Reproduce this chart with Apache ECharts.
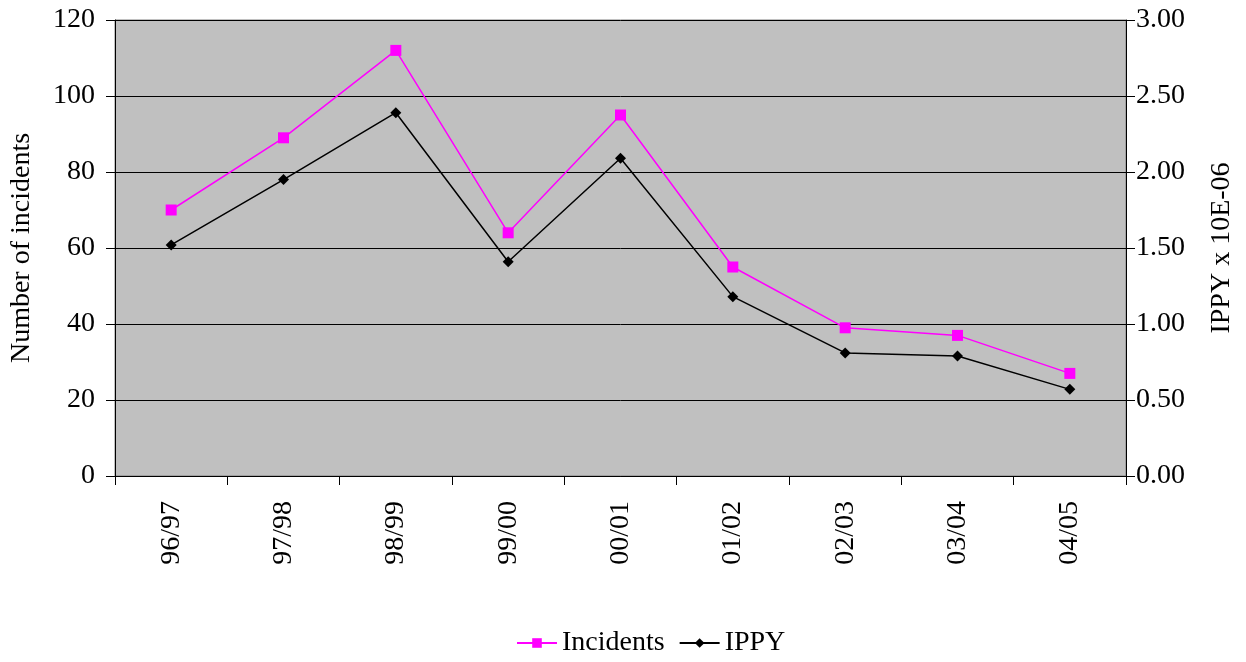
<!DOCTYPE html>
<html>
<head>
<meta charset="utf-8">
<script src="https://cdn.jsdelivr.net/npm/echarts@6/dist/echarts.min.js"></script>
<style>
  html, body { margin: 0; padding: 0; background: #fff; }
  #chart { width: 1246px; height: 662px; }
</style>
</head>
<body>
<div id="chart"></div>
<script>
  // seasons on the x axis
  const seasons = ['96/97', '97/98', '98/99', '99/00', '00/01', '01/02', '02/03', '03/04', '04/05']
  // number of incidents (left axis)
  const incidents = [70, 89, 112, 64, 95, 55, 39, 37, 27]
  // IPPY x 10E-06 (right axis)
  const ippy = [1.52, 1.95, 2.39, 1.41, 2.09, 1.18, 0.81, 0.79, 0.57]

  const font = 'Liberation Serif, Times New Roman, serif'
  const fs = 28

  const chart = echarts.init(document.getElementById('chart'))
  const option = {
    animation: false,
    textStyle: { fontFamily: font, color: '#000' },
    grid: {
      left: 115, right: 120, top: 20, bottom: 186,
      show: true,
      backgroundColor: '#c0c0c0',
      borderColor: '#808080',
      borderWidth: 1
    },
    legend: {
      bottom: 0,
      left: 511,
      itemWidth: 40,
      itemHeight: 12,
      itemGap: 14,
      textStyle: { fontFamily: font, fontSize: fs, color: '#000' },
      data: ['Incidents', 'IPPY']
    },
    xAxis: {
      type: 'category',
      data: seasons,
      boundaryGap: true,
      axisLine: { lineStyle: { color: '#000', width: 1 } },
      axisTick: { show: true, length: 9, lineStyle: { color: '#000' } },
      axisLabel: {
        rotate: 90,
        margin: 25,
        fontFamily: font,
        fontSize: fs,
        color: '#000'
      }
    },
    yAxis: [
      {
        type: 'value',
        min: 0, max: 120, interval: 20,
        name: 'Number of incidents',
        nameLocation: 'middle',
        nameGap: 79,
        nameTextStyle: { fontFamily: font, fontSize: fs, color: '#000' },
        axisLine: { show: true, lineStyle: { color: '#000' } },
        axisTick: { show: true, length: 9, lineStyle: { color: '#000' } },
        axisLabel: { fontFamily: font, fontSize: fs, color: '#000', margin: 20 },
        splitLine: { show: true, lineStyle: { color: '#000', width: 1 } }
      },
      {
        type: 'value',
        min: 0, max: 3, interval: 0.5,
        position: 'right',
        name: 'IPPY x 10E-06',
        nameLocation: 'middle',
        nameGap: 82,
        nameRotate: 90,
        nameTextStyle: { fontFamily: font, fontSize: fs, color: '#000' },
        axisLine: { show: true, lineStyle: { color: '#000' } },
        axisTick: { show: true, length: 9, lineStyle: { color: '#000' } },
        axisLabel: {
          fontFamily: font, fontSize: fs, color: '#000', margin: 10,
          formatter: v => v.toFixed(2)
        },
        splitLine: { show: false }
      }
    ],
    series: [
      {
        name: 'Incidents',
        type: 'line',
        yAxisIndex: 0,
        data: incidents,
        symbol: 'rect',
        symbolSize: 11,
        lineStyle: { color: '#ff00ff', width: 1.5 },
        itemStyle: { color: '#ff00ff' }
      },
      {
        name: 'IPPY',
        type: 'line',
        yAxisIndex: 1,
        data: ippy,
        symbol: 'diamond',
        symbolSize: 11,
        lineStyle: { color: '#000', width: 1.5 },
        itemStyle: { color: '#000' }
      }
    ]
  }
  chart.setOption(option)
</script>
</body>
</html>
